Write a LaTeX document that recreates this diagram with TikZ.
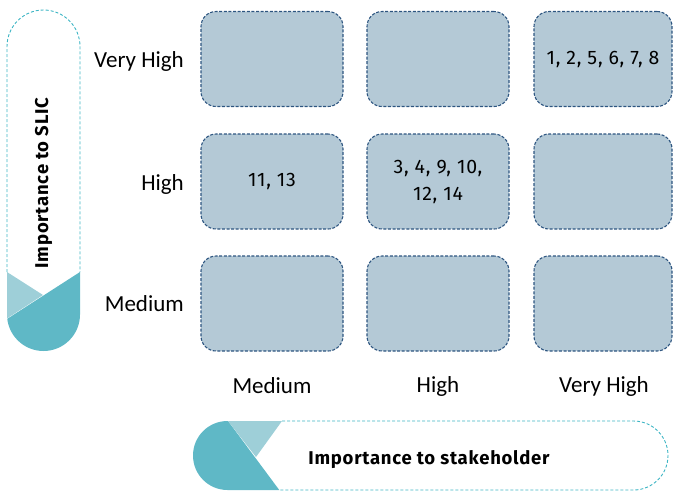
\documentclass[tikz,border=0pt]{standalone}
\usepackage{fontspec}
\setmainfont{Carlito}
\newfontfamily\numfont[LetterSpace=4]{Fira Sans}
\definecolor{boxfill}{HTML}{B4C9D6}
\definecolor{boxline}{HTML}{2D5580}
\definecolor{tealdark}{HTML}{5FB8C6}
\definecolor{teallight}{HTML}{9ECFD8}
\definecolor{tealline}{HTML}{3DB5C4}
\begin{document}
\begin{tikzpicture}[x=1pt,y=-1pt,
  cell/.style={draw=boxline, fill=boxfill, dashed, dash pattern=on 3pt off 1.6pt, line width=1.1pt,
    rounded corners=15pt, minimum width=142pt, minimum height=95pt, inner sep=0pt,
    font=\numfont\fontsize{19.5}{27}\selectfont, align=center},
  axlabel/.style={font=\fontsize{23}{26}\selectfont, inner sep=0pt},
  pilltitle/.style={font=\numfont\bfseries\fontsize{18.5}{20}\selectfont, inner sep=0pt},
  pillline/.style={draw=tealline, dashed, dash pattern=on 3pt off 2pt, line width=0.9pt}]
\useasboundingbox (0,0) rectangle (673,491);
% cells
\node[cell] (c11) at (272,59) {};
\node[cell] (c12) at (438,59) {};
\node[cell, minimum width=138pt] (c13) at (603,59) {1, 2, 5, 6, 7, 8};
\node[cell] (c21) at (272,181.5) {11, 13};
\node[cell] (c22) at (438,181.5) {3, 4, 9, 10,\\12, 14};
\node[cell, minimum width=138pt] (c23) at (603,181.5) {};
\node[cell] (c31) at (272,303.5) {};
\node[cell] (c32) at (438,303.5) {};
\node[cell, minimum width=138pt] (c33) at (603,303.5) {};
% row labels
\node[axlabel, anchor=east] (rVH) at (184,61) {Very High};
\node[axlabel, anchor=east] (rH) at (184,184) {High};
\node[axlabel, anchor=east] (rM) at (184,304) {Medium};
% column labels
\node[axlabel] (kM) at (272,386) {Medium};
\node[axlabel] (kH) at (438,386) {High};
\node[axlabel] (kVH) at (604,386) {Very High};
% left pill
\begin{scope}
  \clip[rounded corners=36.5pt] (7,10) rectangle (80,351);
  \fill[tealdark] (80,272) -- (7,319) -- (0,323) -- (0,360) -- (90,360) -- (90,272) -- cycle;
  \fill[teallight] (7,272) -- (43,295) -- (7,318.5) -- (0,323) -- (0,272) -- cycle;
\end{scope}
\draw[pillline, rounded corners=36.5pt] (7,272) -- (7,10) -- (80,10) -- (80,272);
\node[pilltitle, rotate=90] (tSLIC) at (43.5,183) {Importance to SLIC};
% bottom pill
\begin{scope}
  \clip[rounded corners=34.5pt] (193,421) rectangle (668,490);
  \fill[tealdark] (228,421) -- (280,491) -- (185,491) -- (185,421) -- cycle;
  \fill[teallight] (228,421) -- (282,421) -- (256,457) -- cycle;
\end{scope}
\draw[pillline, rounded corners=34.5pt] (282,421) -- (668,421) -- (668,490) -- (280,490);
\node[pilltitle] (tStake) at (429,460) {Importance to stakeholder};
\end{tikzpicture}
\end{document}
